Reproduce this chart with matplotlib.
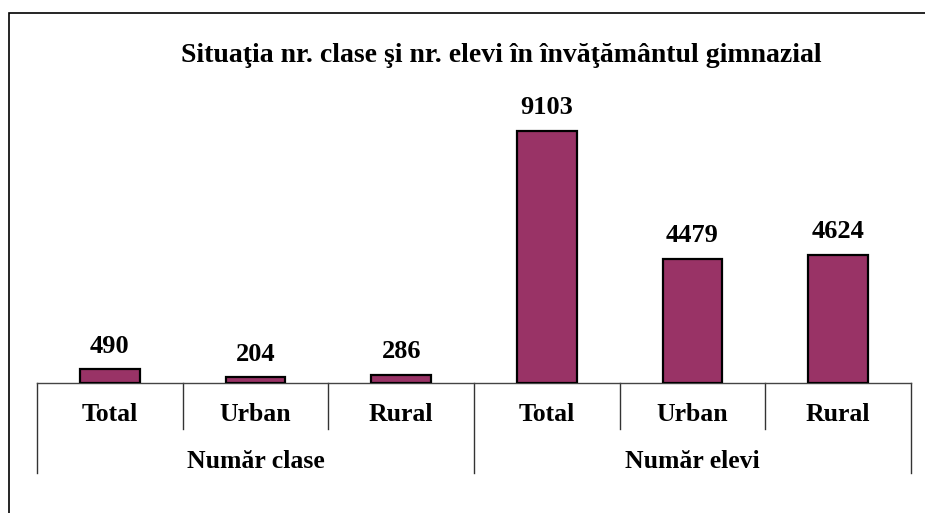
import matplotlib
matplotlib.use("Agg")
import matplotlib.pyplot as plt
from matplotlib.patches import Rectangle

title = "Situaţia nr. clase şi nr. elevi în învăţământul gimnazial"
categories = ["Total", "Urban", "Rural", "Total", "Urban", "Rural"]
groups = ["Număr clase", "Număr elevi"]
group_sizes = [3, 3]
values = [490, 204, 286, 9103, 4479, 4624]

plt.rcParams['font.family'] = ['Liberation Serif', 'DejaVu Serif']
W, H = 925, 513
fig = plt.figure(figsize=(W / 100, H / 100), dpi=100)
ax = fig.add_axes([37 / W, (H - 383) / H, 874 / W, 277 / H])

x = list(range(len(values)))
ax.bar(x, values, width=0.41, color='#993366', edgecolor='black', linewidth=1.6, zorder=3)
ax.set_xlim(-0.5, len(values) - 0.5)
ax.set_ylim(0, 10000)

for xi, v in zip(x, values):
    ax.annotate(f"{v}", (xi, v), xytext=(0, 8.5), textcoords='offset points',
                ha='center', va='bottom', fontsize=19, fontweight='bold')

for s in ['top', 'right', 'left']:
    ax.spines[s].set_visible(False)
ax.spines['bottom'].set_color('#444444')
ax.spines['bottom'].set_linewidth(1.0)
ax.set_xticks([])
ax.set_yticks([])

tr = ax.get_xaxis_transform()
# category labels
for xi, c in zip(x, categories):
    ax.text(xi, -0.115, c, transform=tr, ha='center', va='center', fontsize=18.5, fontweight='bold')

# separators
short_len = -0.165
long_len = -0.325
start = 0
bounds = [-0.5]
for gs in group_sizes:
    start += gs
    bounds.append(start - 0.5)
for i in range(len(values) + 1):
    xb = i - 0.5
    y1 = long_len if xb in bounds else short_len
    ax.plot([xb, xb], [0, y1], transform=tr, color='#333333', lw=1.0, clip_on=False)

start = 0
for g, gs in zip(groups, group_sizes):
    center = start + (gs - 1) / 2
    ax.text(center, -0.285, g, transform=tr, ha='center', va='center', fontsize=18.5, fontweight='bold')
    start += gs

fig.text(501 / W, 1 - 56 / H, title, ha='center', va='center', fontsize=20, fontweight='bold')

fig.patches.append(Rectangle((9 / W, -0.1), 1.2, 1 - 13 / H + 0.1, transform=fig.transFigure,
                             fill=False, edgecolor='black', linewidth=1.2))

fig.savefig("out.png", dpi=100)
